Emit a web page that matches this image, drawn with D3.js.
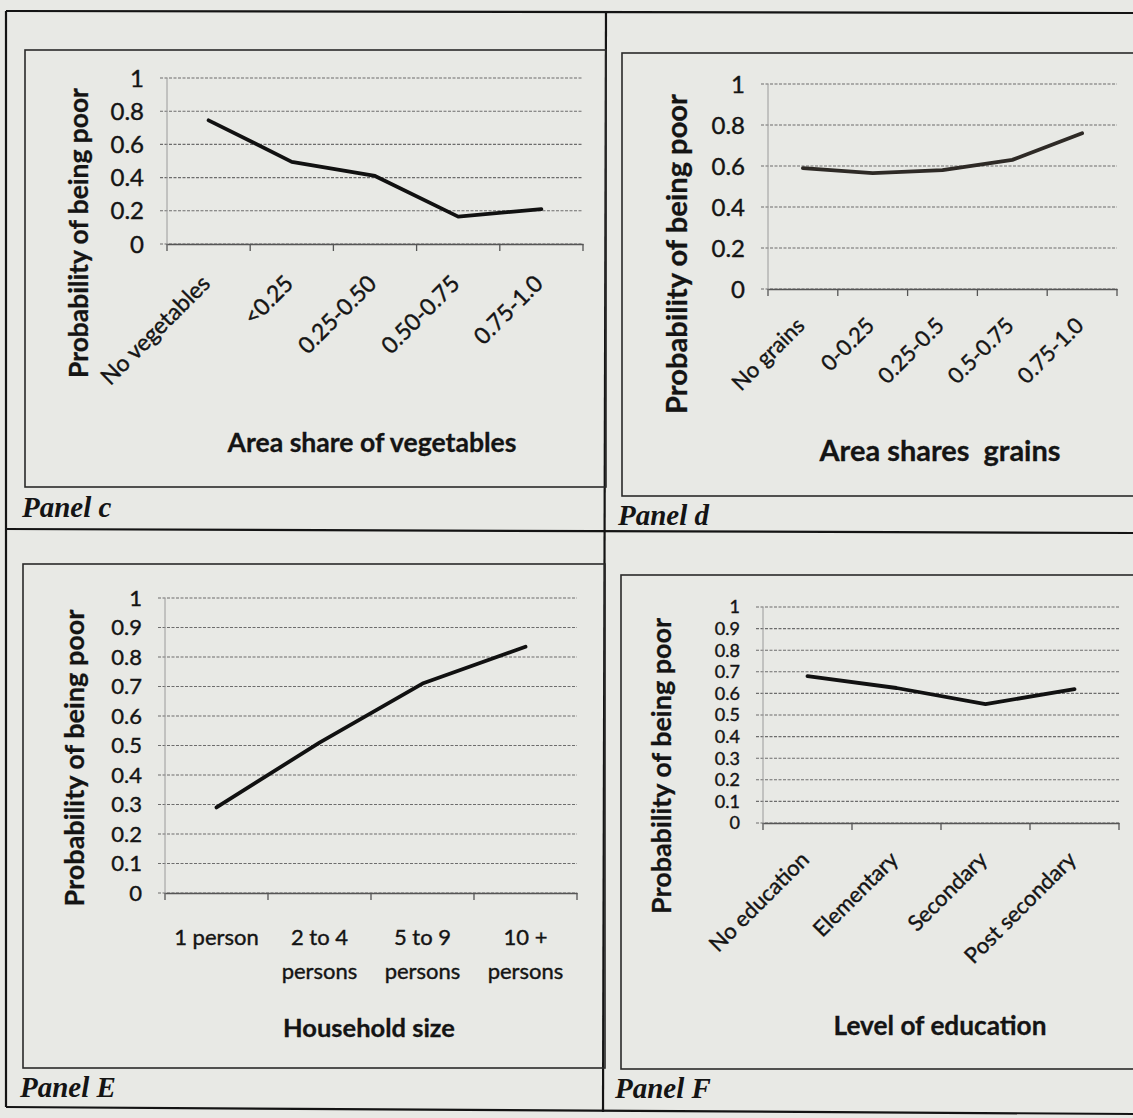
<!DOCTYPE html>
<html>
<head>
<meta charset="utf-8">
<script src="https://cdn.jsdelivr.net/npm/d3@7"></script>
<style>
  body { margin: 0; background: #e8e9e5; }
  svg { display: block; }
</style>
</head>
<body>
<svg id="chart" width="1133" height="1118"></svg>
<script>
var svg = d3.select("#chart")
var width = +svg.attr("width"), height = +svg.attr("height")

// Data
var vegCats = ["No vegetables", "<0.25", "0.25-0.50", "0.50-0.75", "0.75-1.0"]
var vegProb = [0.745, 0.495, 0.41, 0.165, 0.21]
var grainCats = ["No grains", "0-0.25", "0.25-0.5", "0.5-0.75", "0.75-1.0"]
var grainProb = [0.59, 0.565, 0.58, 0.63, 0.76]
var hhCats = ["1 person", "2 to 4|persons", "5 to 9|persons", "10 +|persons"]
var hhProb = [0.29, 0.51, 0.71, 0.835]
var eduCats = ["No education", "Elementary", "Secondary", "Post secondary"]
var eduProb = [0.68, 0.625, 0.55, 0.62]
var ticksFifth = [0, 0.2, 0.4, 0.6, 0.8, 1]
var ticksTenth = [0, 0.1, 0.2, 0.3, 0.4, 0.5, 0.6, 0.7, 0.8, 0.9, 1]

var sans = "Lato, 'Open Sans', sans-serif"
var ink = "#141414"

// page background and the table frame
svg.append("rect").attr("width", width).attr("height", height).attr("fill", "#e8e9e5")
var frame = svg.append("g").attr("stroke", ink).attr("stroke-width", 2.2).attr("fill", "none")
frame.append("line").attr("x1", 6).attr("y1", 11).attr("x2", width).attr("y2", 13)
frame.append("line").attr("x1", 6).attr("y1", 529).attr("x2", width).attr("y2", 533)
frame.append("line").attr("x1", 6).attr("y1", 1107).attr("x2", width).attr("y2", 1114)
frame.append("line").attr("x1", 6).attr("y1", 11).attr("x2", 6).attr("y2", 1107)
frame.append("line").attr("x1", 606).attr("y1", 12).attr("x2", 603).attr("y2", 1112)

// shrink/grow a text so it spans the measured length
function fit(sel, len) {
    var w = sel.node().getComputedTextLength()
    var fs = parseFloat(sel.attr("font-size"))
    sel.attr("font-size", (fs * len / w).toFixed(2))
}

// the scan thickens every glyph a little
function inked(sel, w) {
    return sel.attr("fill", ink).attr("stroke", ink).attr("stroke-width", w)
}

function drawPanel(p) {
    var g = svg.append("g")
    g.append("rect")
        .attr("x", p.box[0]).attr("y", p.box[1])
        .attr("width", p.box[2] - p.box[0]).attr("height", p.box[3] - p.box[1])
        .attr("fill", "none").attr("stroke", "#2a2a2a").attr("stroke-width", 1.6)

    var x = d3.scaleBand().domain(p.cats).range([p.plot[0], p.plot[1]])
    var y = d3.scaleLinear().domain([0, 1]).range([p.plot[3], p.plot[2]])

    // gridlines
    g.selectAll(".grid").data(p.ticks).enter().append("line")
        .attr("x1", p.plot[0] - 7).attr("x2", p.plot[1])
        .attr("y1", d => y(d)).attr("y2", d => y(d))
        .attr("stroke", "#6d6d6d").attr("stroke-width", 1.1)
        .attr("stroke-dasharray", "3,1.5")

    // y axis line
    g.append("line").attr("x1", p.plot[0]).attr("x2", p.plot[0])
        .attr("y1", y(1)).attr("y2", y(0))
        .attr("stroke", "#9a9a9a").attr("stroke-width", 1)

    // x axis with tick marks between categories
    var xAxis = d3.axisBottom(x).tickSize(0).tickFormat("")
    g.append("g").attr("transform", "translate(0," + y(0) + ")").call(xAxis)
        .call(a => a.select(".domain").attr("stroke", "#555").attr("stroke-width", 1.3))
    var edges = p.cats.map(c => x(c)).concat([p.plot[1]])
    g.selectAll(".xtick").data(edges).enter().append("line")
        .attr("x1", d => d).attr("x2", d => d)
        .attr("y1", y(0)).attr("y2", y(0) + 7)
        .attr("stroke", "#555").attr("stroke-width", 1.3)

    // y tick labels
    g.selectAll(".ylab").data(p.ticks).enter().append("text")
        .attr("x", p.plot[0] - 23).attr("y", d => y(d))
        .attr("dy", "0.36em").attr("text-anchor", "end")
        .attr("font-family", sans).attr("font-size", p.tickSize)
        .call(inked, 0.4)
        .text(d => d3.format("")(+d.toFixed(1)))

    // x category labels
    if (p.rotate) {
        g.selectAll(".xlab").data(p.cats).enter().append("text")
            .attr("transform", d => "translate(" + (x(d) + x.bandwidth() / 2 + 3) + "," + (y(0) + p.labelDrop) + ") rotate(-45)")
            .attr("text-anchor", "end")
            .attr("font-family", sans).attr("font-size", p.catSize)
            .call(inked, 0.4)
            .text(d => d)
    } else {
        var labs = g.selectAll(".xlab").data(p.cats).enter().append("text")
            .attr("x", d => x(d) + x.bandwidth() / 2).attr("y", y(0) + 52)
            .attr("text-anchor", "middle")
            .attr("font-family", sans).attr("font-size", p.catSize)
            .call(inked, 0.4)
        labs.selectAll("tspan").data(d => d.split("|")).enter().append("tspan")
            .attr("x", function() { return this.parentNode.getAttribute("x") })
            .attr("dy", (d, i) => i ? 34 : 0)
            .text(d => d)
    }

    // the series line
    var line = d3.line().x((d, i) => x(p.cats[i]) + x.bandwidth() / 2).y(d => y(d))
    g.append("path").datum(p.values)
        .attr("d", line).attr("fill", "none")
        .attr("stroke", p.lineColor || "#111").attr("stroke-width", 3.8)
        .attr("stroke-linejoin", "round").attr("stroke-linecap", "round")

    // axis titles
    var yt = g.append("text")
        .attr("transform", "translate(" + p.yTitle[0] + "," + p.yTitle[1] + ") rotate(-90)")
        .attr("text-anchor", "middle").attr("dominant-baseline", "central")
        .attr("font-family", sans).attr("font-weight", 700).attr("font-size", 22)
        .call(inked, 0.3).text("Probability of being poor")
    fit(yt, p.yTitle[2])

    var xt = g.append("text")
        .attr("x", p.xTitle[0]).attr("y", p.xTitle[1])
        .attr("text-anchor", "middle").attr("dominant-baseline", "central")
        .attr("font-family", sans).attr("font-weight", 700).attr("font-size", 22)
        .call(inked, 0.3).attr("xml:space", "preserve").text(p.xTitleText)
    fit(xt, p.xTitle[2])

    // panel name
    svg.append("text")
        .attr("x", p.name[0]).attr("y", p.name[1])
        .attr("font-family", "'Liberation Serif', serif").attr("font-weight", 700)
        .attr("font-style", "italic").attr("font-size", 29).attr("fill", ink)
        .text(p.name[2])
}

drawPanel({
    cats: vegCats, values: vegProb, ticks: ticksFifth,
    box: [25, 50, 606, 487], plot: [167, 583, 78, 244],
    tickSize: 24, catSize: 23, rotate: true, labelDrop: 41,
    yTitle: [78, 233, 290], xTitle: [372, 442, 289], xTitleText: "Area share of vegetables",
    name: [22, 517, "Panel c"]
})

drawPanel({
    cats: grainCats, values: grainProb, ticks: ticksFifth,
    box: [622, 53, 1140, 496], plot: [768, 1117, 84, 289],
    tickSize: 24, catSize: 22, rotate: true, labelDrop: 38, lineColor: "#2e2a26",
    yTitle: [675, 254, 320], xTitle: [940, 449, 241], xTitleText: "Area shares  grains",
    name: [618, 525, "Panel d"]
})

drawPanel({
    cats: hhCats, values: hhProb, ticks: ticksTenth,
    box: [23, 564, 605, 1068], plot: [165, 577, 598, 893],
    tickSize: 22, catSize: 22, rotate: false,
    yTitle: [73, 758, 297], xTitle: [369, 1027, 172], xTitleText: "Household size",
    name: [20, 1097, "Panel E"]
})

drawPanel({
    cats: eduCats, values: eduProb, ticks: ticksTenth,
    box: [621, 575, 1140, 1069], plot: [763, 1119, 607, 823],
    tickSize: 18, catSize: 22, rotate: true, labelDrop: 38,
    yTitle: [660, 766, 296], xTitle: [940, 1025, 213], xTitleText: "Level of education",
    name: [615, 1098, "Panel F"]
})
</script>
</body>
</html>
